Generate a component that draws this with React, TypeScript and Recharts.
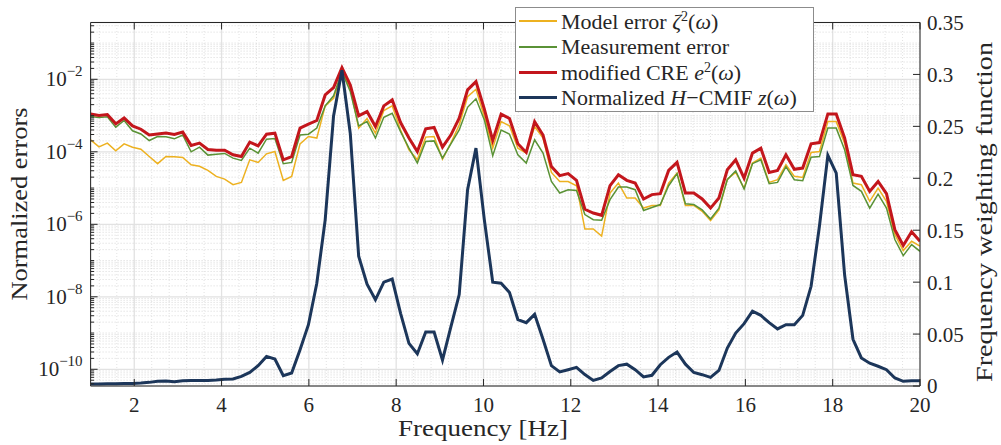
import {
  LineChart,
  Line,
  XAxis,
  YAxis,
  CartesianGrid,
  Legend,
  ReferenceLine,
  Label,
} from 'recharts';

// frequency grid [Hz], 100 points from 1 to 20
const freq = [
  1, 1.192, 1.384, 1.576, 1.768, 1.96, 2.152, 2.343, 2.535, 2.727,
  2.919, 3.111, 3.303, 3.495, 3.687, 3.879, 4.071, 4.263, 4.455, 4.646,
  4.838, 5.03, 5.222, 5.414, 5.606, 5.798, 5.99, 6.182, 6.374, 6.566,
  6.758, 6.949, 7.141, 7.333, 7.525, 7.717, 7.909, 8.101, 8.293, 8.485,
  8.677, 8.869, 9.061, 9.253, 9.444, 9.636, 9.828, 10.02, 10.212, 10.404,
  10.596, 10.788, 10.98, 11.172, 11.364, 11.556, 11.747, 11.939, 12.131, 12.323,
  12.515, 12.707, 12.899, 13.091, 13.283, 13.475, 13.667, 13.859, 14.051, 14.242,
  14.434, 14.626, 14.818, 15.01, 15.202, 15.394, 15.586, 15.778, 15.97, 16.162,
  16.354, 16.545, 16.737, 16.929, 17.121, 17.313, 17.505, 17.697, 17.889, 18.081,
  18.273, 18.465, 18.657, 18.848, 19.04, 19.232, 19.424, 19.616, 19.808, 20,
];

const modelError = [
  2.14e-4, 1.37e-4, 1.73e-4, 1.07e-4, 1.66e-4, 1.34e-4, 1.18e-4, 7.4e-5, 4.7e-5, 7.4e-5,
  7.3e-5, 7.0e-5, 4.4e-5, 4.0e-5, 3.06e-5, 2.1e-5, 1.77e-5, 1.24e-5, 1.43e-5, 6.0e-5,
  5.1e-5, 8.8e-5, 1.02e-4, 1.63e-5, 2.1e-5, 1.66e-4, 2.64e-4, 2.4e-4, 1.85e-3, 3.0e-3,
  1.52e-2, 5.7e-3, 4.5e-4, 8.3e-4, 3.27e-4, 1.37e-3, 1.85e-3, 4.0e-4, 1.14e-4, 6.0e-5,
  2.54e-4, 2.64e-4, 6.3e-5, 1.73e-4, 5.5e-4, 3.3e-3, 5.3e-3, 9.4e-4, 1.26e-4, 6.8e-4,
  5.2e-4, 1.26e-4, 9.2e-5, 5.0e-4, 2.4e-4, 2.7e-5, 1.52e-5, 1.52e-5, 1.16e-5, 7.4e-7,
  7.4e-7, 4.7e-7, 7.3e-6, 1.37e-5, 5.3e-6, 5.3e-6, 2.8e-6, 3.3e-6, 3.3e-6, 1.37e-5,
  2.6e-5, 3.3e-6, 3.3e-6, 2.28e-6, 1.26e-6, 2.5e-6, 1.77e-5, 2.7e-5, 1.0e-5, 4.9e-5,
  6.7e-5, 1.43e-5, 1.7e-5, 4.4e-5, 2.1e-5, 1.97e-5, 9.6e-5, 1.02e-4, 6.8e-4, 6.8e-4,
  1.73e-4, 1.37e-5, 1.24e-5, 4.3e-6, 1.0e-5, 4.3e-6, 5.2e-7, 1.88e-7, 3.4e-7, 2.5e-7,
];

const measError = [
  9.4e-4, 8.8e-4, 9.2e-4, 4.8e-4, 7.3e-4, 3.8e-4, 3.1e-4, 2.05e-4, 2.64e-4, 2.6e-4,
  2.28e-4, 2.9e-4, 1.0e-4, 1.34e-4, 8.1e-5, 8.6e-5, 9.0e-5, 6.7e-5, 5.8e-5, 1.26e-4,
  9.2e-5, 2.23e-4, 2.33e-4, 4.7e-5, 5.1e-5, 2.9e-4, 3.06e-4, 4.5e-4, 1.85e-3, 3.5e-3,
  1.63e-2, 4.6e-3, 5.2e-4, 6.8e-4, 2.4e-4, 9.0e-4, 1.16e-3, 3.6e-4, 1.26e-4, 4.9e-5,
  1.92e-4, 2.0e-4, 6.7e-5, 1.66e-4, 4.0e-4, 1.69e-3, 2.9e-3, 7.6e-4, 7.8e-5, 4.0e-4,
  3.06e-4, 8.3e-5, 4.9e-5, 2.14e-4, 9.2e-5, 1.52e-5, 7.3e-6, 9.0e-6, 8.6e-6, 1.85e-6,
  1.34e-6, 1.29e-6, 4.8e-6, 1.07e-5, 1.07e-5, 9.0e-6, 2.4e-6, 2.9e-6, 3.5e-6, 1.16e-5,
  2.5e-5, 3.7e-6, 3.5e-6, 2.5e-6, 1.4e-6, 2.8e-6, 1.7e-5, 3.0e-5, 9.4e-6, 4.7e-5,
  6.0e-5, 1.32e-5, 1.43e-5, 3.9e-5, 1.7e-5, 1.59e-5, 7.1e-5, 7.4e-5, 4.5e-4, 4.5e-4,
  1.14e-4, 1.18e-5, 8.1e-6, 2.8e-6, 6.8e-6, 2.8e-6, 3.8e-7, 1.37e-7, 2.75e-7, 1.8e-7,
];

const creError = [
  1.11e-3, 1.0e-3, 1.07e-3, 5.9e-4, 8.6e-4, 5.2e-4, 4.2e-4, 2.9e-4, 3.1e-4, 3.3e-4,
  3.0e-4, 3.5e-4, 1.5e-4, 1.73e-4, 1.16e-4, 1.11e-4, 1.11e-4, 8.3e-5, 7.4e-5, 1.85e-4,
  1.46e-4, 3.06e-4, 3.27e-4, 6.0e-5, 7.4e-5, 4.5e-4, 5.8e-4, 7.3e-4, 3.7e-3, 5.9e-3,
  2.1e-2, 7.0e-3, 9.8e-4, 1.29e-3, 5.0e-4, 1.85e-3, 2.7e-3, 6.4e-4, 2.4e-4, 1.02e-4,
  4.3e-4, 4.7e-4, 1.34e-4, 2.9e-4, 8.5e-4, 5.1e-3, 8.6e-3, 1.49e-3, 2.05e-4, 1.09e-3,
  8.3e-4, 1.66e-4, 9.6e-5, 6.8e-4, 2.9e-4, 3.9e-5, 2.2e-5, 2.5e-5, 1.63e-5, 2.6e-6,
  2.05e-6, 1.77e-6, 1.16e-5, 2.33e-5, 1.63e-5, 1.37e-5, 5.0e-6, 6.6e-6, 7.0e-6, 3.06e-5,
  5.1e-5, 7.3e-6, 7.3e-6, 5.0e-6, 2.8e-6, 5.3e-6, 3.2e-5, 6.0e-5, 1.88e-5, 9.2e-5,
  1.26e-4, 2.7e-5, 3.06e-5, 8.3e-5, 3.3e-5, 3.55e-5, 1.66e-4, 1.8e-4, 1.11e-3, 1.11e-3,
  2.4e-4, 2.33e-5, 2.1e-5, 8.1e-6, 1.52e-5, 7.0e-6, 7.1e-7, 2.6e-7, 6.2e-7, 3.4e-7,
];

const cmif = [
  0.0019, 0.0019, 0.0022, 0.0022, 0.0025, 0.0025, 0.0029, 0.0035, 0.0045, 0.0048,
  0.0041, 0.0051, 0.0054, 0.0054, 0.0054, 0.0057, 0.0064, 0.0067, 0.0093, 0.0131,
  0.0195, 0.0285, 0.026, 0.0099, 0.0125, 0.035, 0.059, 0.099, 0.16, 0.26,
  0.304, 0.243, 0.125, 0.098, 0.083, 0.1, 0.103, 0.07, 0.041, 0.031,
  0.052, 0.052, 0.025, 0.057, 0.088, 0.189, 0.229, 0.16, 0.1, 0.099,
  0.09, 0.064, 0.061, 0.069, 0.045, 0.0196, 0.0135, 0.0157, 0.018, 0.011,
  0.0054, 0.0077, 0.014, 0.0196, 0.021, 0.0157, 0.0087, 0.0103, 0.0205, 0.0276,
  0.0327, 0.021, 0.013, 0.0109, 0.0083, 0.015, 0.0365, 0.051, 0.06, 0.072,
  0.068, 0.061, 0.055, 0.059, 0.059, 0.068, 0.096, 0.154, 0.222, 0.205,
  0.107, 0.045, 0.027, 0.022, 0.019, 0.0157, 0.0077, 0.0045, 0.005, 0.005,
];

const freqTicks = [2, 4, 6, 8, 10, 12, 14, 16, 18, 20];
const errTicks = [1e-10, 1e-8, 1e-6, 1e-4, 1e-2];
const weightTicks = [0, 0.05, 0.1, 0.15, 0.2, 0.25, 0.3, 0.35];

const ERR_DOMAIN = [3.46e-11, 0.369];
const FONT = '"Liberation Serif", "Times New Roman", serif';
const AXIS = '#262626';

const data = freq.map((f, i) => ({
  f,
  model: modelError[i],
  meas: measError[i],
  cre: creError[i],
  cmif: cmif[i],
}));

// minor log grid (2..9 of every decade + odd decades)
const minorErr: number[] = [];
for (let d = -11; d <= -1; d++) {
  for (let m = 1; m <= 9; m++) {
    const v = Number(`${m}e${d}`);
    if (errTicks.includes(v)) continue;
    if (v < ERR_DOMAIN[0] || v > ERR_DOMAIN[1]) continue;
    minorErr.push(v);
  }
}
const minorFreq: number[] = [];
for (let i = 3; i <= 49; i++) {
  if (i % 5 === 0) continue;
  minorFreq.push(Math.round(i * 4) / 10);
}

const series = [
  {
    key: 'model',
    axis: 'left',
    color: '#EDB120',
    width: 1.5,
    label: (
      <>
        Model error <i>ζ</i>
        <sup style={{ fontSize: 14 }}>2</sup>(<i>ω</i>)
      </>
    ),
  },
  {
    key: 'meas',
    axis: 'left',
    color: '#5A9236',
    width: 1.5,
    label: <>Measurement error</>,
  },
  {
    key: 'cre',
    axis: 'left',
    color: '#C3161C',
    width: 3,
    label: (
      <>
        modified CRE <i>e</i>
        <sup style={{ fontSize: 14 }}>2</sup>(<i>ω</i>)
      </>
    ),
  },
  {
    key: 'cmif',
    axis: 'right',
    color: '#1C365A',
    width: 3,
    label: (
      <>
        Normalized <i>H</i>−CMIF <i>z</i>(<i>ω</i>)
      </>
    ),
  },
];

const PowTick = ({ x, y, payload }: any) => {
  const exp = Math.round(Math.log10(payload.value));
  return (
    <text x={x} y={y} textAnchor='end' fill={AXIS} fontFamily={FONT} fontSize={21}>
      <tspan dy={7}>10</tspan>
      <tspan dy={-10} fontSize={15}>{`\u2212${-exp}`}</tspan>
    </text>
  );
};

const AxisTitle = ({ x, y, rotate, length, text }: any) => (
  <text
    transform={`translate(${x}, ${y})${rotate ? ' rotate(-90)' : ''}`}
    textAnchor='middle'
    fill={AXIS}
    fontFamily={FONT}
    fontSize={24}
    textLength={length}
    lengthAdjust='spacingAndGlyphs'
  >
    {text}
  </text>
);

const LegendBox = () => (
  <div
    style={{
      boxSizing: 'border-box',
      width: 299,
      height: 105,
      border: '1px solid #8c8c8c',
      background: '#fff',
      paddingTop: 0.5,
      fontFamily: FONT,
      fontSize: 22,
      color: AXIS,
    }}
  >
    {series.map((s) => (
      <div key={s.key} style={{ display: 'flex', alignItems: 'center', height: 25.5 }}>
        <span
          style={{
            display: 'inline-block',
            width: 38,
            height: 0,
            borderTop: `${s.width === 3 ? 3 : 2}px solid ${s.color}`,
            marginLeft: 3,
            marginRight: 4,
          }}
        />
        <span style={{ whiteSpace: 'nowrap', lineHeight: 1 }}>{s.label}</span>
      </div>
    ))}
  </div>
);

const App = () => {
  return (
    <div style={{ position: 'absolute', top: 0, left: 0, width: 1001, height: 445 }}>
      <LineChart
        width={1001}
        height={445}
        data={data}
        margin={{ top: 22.5, right: 0, bottom: 0, left: 0 }}
      >
        {minorErr.map((v) => (
          <ReferenceLine
            key={`my${v}`}
            yAxisId='left'
            y={v}
            stroke='#cfcfcf'
            strokeWidth={0.8}
            strokeDasharray='1 2'
          />
        ))}
        {minorFreq.map((v) => (
          <ReferenceLine
            key={`mx${v}`}
            yAxisId='left'
            x={v}
            stroke='#dadada'
            strokeWidth={0.8}
            strokeDasharray='1 2'
          />
        ))}
        <CartesianGrid yAxisId='left' stroke='#e2e2e2' strokeWidth={1.3} />
        <XAxis
          dataKey='f'
          type='number'
          domain={[1, 20]}
          ticks={freqTicks}
          allowDataOverflow
          height={59}
          tickLine={false}
          tickSize={0}
          tickMargin={11}
          axisLine={{ stroke: AXIS }}
          tick={{ fill: AXIS, fontSize: 21, fontFamily: FONT }}
        >
          <Label
            content={() => <AxisTitle x={483} y={436} length={170} text='Frequency [Hz]' />}
          />
        </XAxis>
        <YAxis
          yAxisId='left'
          scale='log'
          domain={ERR_DOMAIN}
          ticks={errTicks}
          allowDataOverflow
          width={90.6}
          tickLine={false}
          tickSize={0}
          tickMargin={8}
          axisLine={{ stroke: AXIS }}
          tick={<PowTick />}
        >
          <Label
            content={() => (
              <AxisTitle x={27} y={204} rotate length={193} text='Normalized errors' />
            )}
          />
        </YAxis>
        <YAxis
          yAxisId='right'
          orientation='right'
          domain={[0, 0.35]}
          ticks={weightTicks}
          allowDataOverflow
          width={81}
          tickLine={false}
          tickSize={0}
          tickMargin={7}
          axisLine={{ stroke: AXIS }}
          tick={{ fill: AXIS, fontSize: 21, fontFamily: FONT }}
        >
          <Label
            content={() => (
              <AxisTitle
                x={992}
                y={212}
                rotate
                length={340}
                text='Frequency weighting function'
              />
            )}
          />
        </YAxis>

        {series.map((s) => (
          <Line
            key={s.key}
            yAxisId={s.axis}
            dataKey={s.key}
            type='linear'
            stroke={s.color}
            strokeWidth={s.width}
            dot={false}
            activeDot={false}
            isAnimationActive={false}
          />
        ))}

        {/* box and inward tick marks */}
        <ReferenceLine yAxisId='right' y={0.35} stroke={AXIS} />
        {freqTicks.map((v) => (
          <ReferenceLine
            key={`tb${v}`}
            yAxisId='right'
            segment={[{ x: v, y: 0 }, { x: v, y: 0.0067 }]}
            stroke={AXIS}
          />
        ))}
        {freqTicks.map((v) => (
          <ReferenceLine
            key={`tt${v}`}
            yAxisId='right'
            segment={[{ x: v, y: 0.3433 }, { x: v, y: 0.35 }]}
            stroke={AXIS}
          />
        ))}
        {errTicks.map((v) => (
          <ReferenceLine
            key={`tl${v}`}
            yAxisId='left'
            segment={[{ x: 1, y: v }, { x: 1.16, y: v }]}
            stroke={AXIS}
          />
        ))}
        {minorErr.map((v) => (
          <ReferenceLine
            key={`tm${v}`}
            yAxisId='left'
            segment={[{ x: 1, y: v }, { x: 1.08, y: v }]}
            stroke={AXIS}
          />
        ))}
        {weightTicks.map((v) => (
          <ReferenceLine
            key={`tr${v}`}
            yAxisId='right'
            segment={[{ x: 19.84, y: v }, { x: 20, y: v }]}
            stroke={AXIS}
          />
        ))}

        <Legend
          content={<LegendBox />}
          layout='vertical'
          align='center'
          verticalAlign='middle'
          wrapperStyle={{ left: 515, top: 7, width: 299, height: 105 }}
        />
      </LineChart>
    </div>
  );
};

export default App;
